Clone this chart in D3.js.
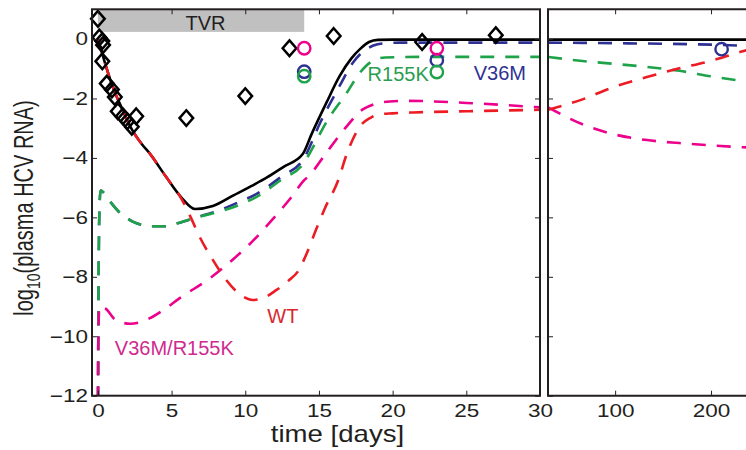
<!DOCTYPE html>
<html>
<head>
<meta charset="utf-8">
<script src="https://cdn.jsdelivr.net/npm/d3@7"></script>
<style>
body { margin: 0; background: #fff; }
svg { display: block; font-family: "Liberation Sans", Arial, Helvetica, sans-serif; }
</style>
</head>
<body>
<svg width="746" height="450"></svg>
<script>
// ---- model curves, first 30 days ----
var tTotal = [0, 0.3, 0.6, 1, 1.6, 2.2, 3, 3.5, 4.6, 5.7, 6.6, 7.8, 9.2, 10.4, 11.5, 12.6, 13.9, 14.5, 15.5, 16.4, 17.2, 17.8, 18.4, 19, 20, 25, 30];
var vTotal = [0, -0.5, -1.0, -1.6, -2.3, -2.95, -3.55, -3.84, -4.62, -5.35, -5.72, -5.62, -5.26, -4.95, -4.65, -4.3, -3.87, -3.2, -2.15, -1.25, -0.65, -0.33, -0.1, -0.03, -0.02, -0.02, -0.02];

var tWT = [0, 0.3, 0.6, 1, 1.6, 2.2, 3, 3.5, 4.6, 5.7, 6.3, 6.9, 7.8, 8.7, 9.9, 10.5, 11.2, 12.1, 13, 13.6, 14.05, 14.8, 15.4, 16.3, 16.9, 17.8, 18.5, 19.1, 20, 21.4, 25, 30];
var vWT = [0, -0.5, -1.0, -1.6, -2.3, -2.95, -3.55, -3.84, -4.62, -5.4, -6.0, -6.65, -7.43, -8.1, -8.68, -8.78, -8.72, -8.45, -8.1, -7.8, -7.35, -6.42, -5.7, -4.76, -3.85, -2.93, -2.65, -2.53, -2.5, -2.47, -2.43, -2.38];

var tV36M = [0, 0.05, 0.1, 0.18, 0.35, 0.8, 1.5, 2.4, 3.7, 4.5, 5.4, 6.7, 8.3, 9.5, 10.8, 12.4, 14, 15.1, 16.4, 17.3, 18, 18.7, 19.5, 20.5, 25, 30];
var vV36M = [-13, -8, -5.8, -5.1, -5.15, -5.45, -5.85, -6.15, -6.3, -6.3, -6.2, -6.0, -5.75, -5.5, -5.2, -4.65, -4.0, -2.8, -1.58, -0.8, -0.42, -0.22, -0.14, -0.12, -0.12, -0.12];

var tR155K = [0, 0.05, 0.1, 0.18, 0.35, 0.8, 1.5, 2.4, 3.7, 4.5, 5.4, 6.7, 8.3, 9.5, 10.8, 12.4, 14, 14.4, 15.5, 16.9, 17.8, 18.6, 19.5, 22, 30];
var vR155K = [-13, -8, -5.8, -5.1, -5.15, -5.45, -5.85, -6.15, -6.3, -6.3, -6.2, -6.0, -5.8, -5.6, -5.3, -4.75, -4.15, -3.82, -2.8, -1.8, -1.12, -0.75, -0.62, -0.6, -0.6];

var tDouble = [0, 0.03, 0.1, 0.5, 1.2, 2.2, 3.5, 4.5, 5.6, 7.6, 9.2, 10.5, 11.7, 13, 14, 14.4, 15.5, 16.9, 18, 19.8, 21, 25, 30];
var vDouble = [-13, -10, -9.0, -9.06, -9.45, -9.58, -9.4, -9.1, -8.7, -8.05, -7.4, -6.8, -6.15, -5.4, -4.75, -4.56, -3.83, -2.93, -2.36, -2.1, -2.08, -2.15, -2.3];

// ---- model curves, long term ----
var tLateTotal = [30, 250];
var vLateTotal = [-0.02, -0.02];
var tLateV36M = [30, 100, 200, 250];
var vLateV36M = [-0.12, -0.14, -0.19, -0.24];
var tLateR155K = [30, 66, 101, 136, 167, 201, 233, 250];
var vLateR155K = [-0.6, -0.74, -0.84, -0.95, -1.07, -1.26, -1.41, -1.48];
var tLateWT = [30, 66, 98, 133, 164, 199, 230, 250];
var vLateWT = [-2.38, -2.03, -1.62, -1.28, -1.01, -0.74, -0.44, -0.25];
var tLateDouble = [30, 66, 98, 133, 167, 201, 233, 250];
var vLateDouble = [-2.3, -2.87, -3.2, -3.4, -3.5, -3.58, -3.64, -3.66];

// ---- patient data ----
var obsT = [0, 0.1, 0.3, 0.35, 0.3, 0.6, 0.95, 1.15, 1.35, 1.7, 2.0, 2.3, 2.6, 6.0, 10.0, 13.0, 16.0, 22.0, 27.0];
var obsV = [0.68, 0.05, -0.07, -0.2, -0.75, -1.5, -1.7, -1.95, -2.43, -2.6, -2.77, -2.95, -2.6, -2.66, -1.92, -0.31, 0.1, -0.1, 0.13];

// clonal sequencing fractions
var cloneT = [14, 23];
var cloneDouble = [-0.31, -0.31];
var cloneV36M = [-1.1, -0.71];
var cloneR155K = [-1.25, -1.11];
var lateCloneT = [211];
var lateCloneV36M = [-0.34];

var yTicks = [-12, -10, -8, -6, -4, -2, 0];
var xTicksLeft = [0, 5, 10, 15, 20, 25, 30];
var xTicksRight = [100, 200];
var tvr = [0, 14];

var colBlack = "#000", colBlue = "#2e3192", colGreen = "#1fa34a", colRed = "#ed1c24", colMag = "#ec008c";

var svg = d3.select("svg");

var x = d3.scaleLinear().domain([-0.4, 30]).range([92, 540]);
var x2 = d3.scaleLinear().domain([30, 250]).range([548, 759]);
var y = d3.scaleLinear().domain([-12, 1]).range([395.7, 9.3]);

function zip(t, v) { return t.map(function(d, i) { return [d, v[i]]; }); }

var defs = svg.append("defs");
defs.append("clipPath").attr("id", "clipL").append("rect")
  .attr("x", 92).attr("y", 9.3).attr("width", 448).attr("height", 386.4);
defs.append("clipPath").attr("id", "clipR").append("rect")
  .attr("x", 548).attr("y", 9.3).attr("width", 220).attr("height", 386.4);

var gL = svg.append("g").attr("clip-path", "url(#clipL)");
var gR = svg.append("g").attr("clip-path", "url(#clipR)");

// treatment bar
gL.append("rect")
  .attr("x", x(tvr[0])).attr("width", x(tvr[1]) - x(tvr[0]))
  .attr("y", y(1)).attr("height", y(0.24) - y(1))
  .attr("fill", "#c0c0c0");
svg.append("text").attr("x", x(7.3)).attr("y", y(0.29))
  .attr("text-anchor", "middle").attr("font-size", 20).attr("fill", "#231f20")
  .text("TVR");

var series = [
  { t: tTotal, v: vTotal, lt: tLateTotal, lv: vLateTotal, color: colBlack, dash: null },
  { t: tV36M, v: vV36M, lt: tLateV36M, lv: vLateV36M, color: colBlue, dash: "14,11" },
  { t: tR155K, v: vR155K, lt: tLateR155K, lv: vLateR155K, color: colGreen, dash: "14,11" },
  { t: tDouble, v: vDouble, lt: tLateDouble, lv: vLateDouble, color: colMag, dash: "14,11" },
  { t: tWT, v: vWT, lt: tLateWT, lv: vLateWT, color: colRed, dash: "14,11" }
];

function mkLine(xs) {
  return d3.line().x(function(d) { return xs(d[0]); }).y(function(d) { return y(d[1]); })
    .curve(d3.curveMonotoneX);
}

series.forEach(function(s) {
  gL.append("path").datum(zip(s.t, s.v))
    .attr("d", mkLine(x)).attr("fill", "none")
    .attr("stroke", s.color).attr("stroke-width", 2.6)
    .attr("stroke-dasharray", s.dash);
  gR.append("path").datum(zip(s.lt, s.lv))
    .attr("d", mkLine(x2)).attr("fill", "none")
    .attr("stroke", s.color).attr("stroke-width", 2.6)
    .attr("stroke-dasharray", s.dash);
});

// diamonds
svg.append("g").selectAll("path").data(zip(obsT, obsV)).enter().append("path")
  .attr("transform", function(d) { return "translate(" + x(d[0]) + "," + y(d[1]) + ")"; })
  .attr("d", "M0,-7.8L6.8,0L0,7.8L-6.8,0Z")
  .attr("fill", "none").attr("stroke", colBlack).attr("stroke-width", 2.5);

// circles
function circles(g, xs, t, v, color) {
  g.selectAll(null).data(zip(t, v)).enter().append("circle")
    .attr("cx", function(d) { return xs(d[0]); }).attr("cy", function(d) { return y(d[1]); })
    .attr("r", 6.2).attr("fill", "none").attr("stroke", color).attr("stroke-width", 2.4);
}
var gC = svg.append("g");
circles(gC, x, cloneT, cloneV36M, colBlue);
circles(gC, x, cloneT, cloneR155K, colGreen);
circles(gC, x, cloneT, cloneDouble, colMag);
circles(gR, x2, lateCloneT, lateCloneV36M, colBlue);

// curve labels
var labels = [
  { t: 18.3, v: -1.42, text: "R155K", color: "#2a9d4f" },
  { t: 25.5, v: -1.38, text: "V36M", color: "#2e3192" },
  { t: 11.5, v: -9.56, text: "WT", color: "#d7282f" },
  { t: 1.15, v: -10.64, text: "V36M/R155K", color: "#cf2a90" }
];
svg.append("g").selectAll("text").data(labels).enter().append("text")
  .attr("x", function(d) { return x(d.t); }).attr("y", function(d) { return y(d.v); })
  .attr("font-size", 20).attr("fill", function(d) { return d.color; })
  .text(function(d) { return d.text; });

// frames
var frame = svg.append("g").attr("fill", "none").attr("stroke", "#231f20").attr("stroke-width", 2);
frame.append("rect").attr("x", 92).attr("y", 9.3).attr("width", 448).attr("height", 386.4);
frame.append("path").attr("d", "M770,9.3H548V395.7H770");

// axes
function styleAxis(g, stretchX) {
  g.select(".domain").remove();
  g.selectAll(".tick line").attr("stroke", "#231f20");
  g.selectAll(".tick text")
    .attr("font-size", 18).attr("fill", "#231f20")
    .attr("font-family", "Liberation Sans, Arial, sans-serif")
    .each(function() {
      var t = d3.select(this);
      var tx = +t.attr("x") || 0;
      t.attr("x", tx / stretchX).attr("transform", "scale(" + stretchX + ",1)");
    });
}

svg.append("g").attr("transform", "translate(92,0)")
  .call(d3.axisLeft(y).tickValues(yTicks).tickSize(-5).tickPadding(4))
  .call(styleAxis, 1.25);
svg.append("g").attr("transform", "translate(540,0)")
  .call(d3.axisRight(y).tickValues(yTicks).tickSize(-5).tickFormat(""))
  .call(styleAxis, 1);
svg.append("g").attr("transform", "translate(0,395.7)")
  .call(d3.axisBottom(x).tickValues(xTicksLeft).tickSize(-5).tickPadding(9))
  .call(styleAxis, 1.25);
svg.append("g").attr("transform", "translate(0,9.3)")
  .call(d3.axisTop(x).tickValues(xTicksLeft).tickSize(-5).tickFormat(""))
  .call(styleAxis, 1);

svg.append("g").attr("transform", "translate(548,0)")
  .call(d3.axisLeft(y).tickValues(yTicks).tickSize(-5).tickFormat(""))
  .call(styleAxis, 1);
svg.append("g").attr("transform", "translate(0,395.7)")
  .call(d3.axisBottom(x2).tickValues(xTicksRight).tickSize(-5).tickPadding(9))
  .call(styleAxis, 1.25);
svg.append("g").attr("transform", "translate(0,9.3)")
  .call(d3.axisTop(x2).tickValues(xTicksRight).tickSize(-5).tickFormat(""))
  .call(styleAxis, 1);

// axis titles
svg.append("text")
  .attr("transform", "translate(337.5,442) scale(1.2,1)")
  .attr("text-anchor", "middle").attr("font-size", 23).attr("fill", "#231f20")
  .text("time [days]");

var yl = svg.append("text")
  .attr("transform", "translate(33,208) scale(1.35,1) rotate(-90)")
  .attr("text-anchor", "middle").attr("font-size", 20).attr("fill", "#231f20");
yl.append("tspan").text("log");
yl.append("tspan").attr("font-size", 14).attr("dy", 5).text("10");
yl.append("tspan").attr("dy", -5).text("(plasma HCV RNA)");
</script>
</body>
</html>
